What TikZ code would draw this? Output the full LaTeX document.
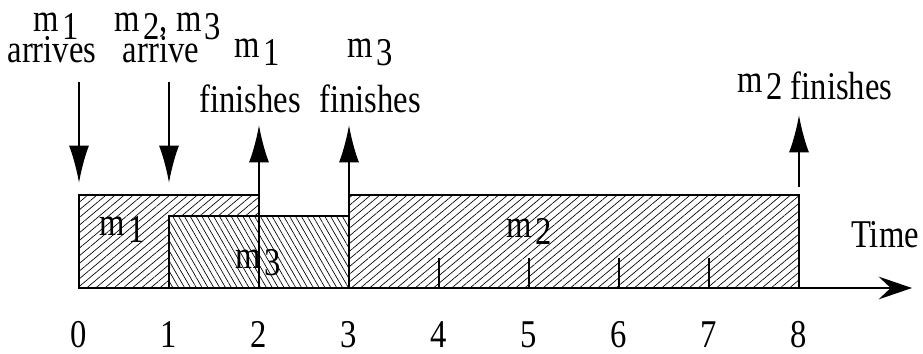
\documentclass[tikz,border=0pt]{standalone}
\usepackage{fontspec}
\setmainfont[FakeStretch=0.83]{Liberation Serif}
\usetikzlibrary{patterns.meta,arrows.meta}
\newcommand{\msb}[1]{m\hspace{2.5pt}\raisebox{-5.5pt}{#1}}
\begin{document}
\begin{tikzpicture}[x=0.75pt,y=-0.75pt,
  lbl/.style={font=\fontsize{29.5}{31}\selectfont, inner sep=0pt, anchor=base},
  arr/.style={line width=1.6pt, -{Latex[length=28pt,width=15pt]}},
  box/.style={line width=1.6pt},
  hatchA/.style={pattern={Lines[angle=40,distance=4.4pt,line width=0.5pt]}},
  hatchB/.style={preaction={fill=white},pattern={Lines[angle=-60,distance=3.8pt,line width=0.5pt]}}]
\useasboundingbox (0,0) rectangle (923,353);
% job boxes
\draw[box, hatchA] (79,195) rectangle (259,288);
\draw[box, hatchB] (169,216) rectangle (349,288);
\draw[box, hatchA] (349,195) rectangle (799,288);
% ticks
\foreach \i in {4,...,7} \draw[line width=1pt] (79+90*\i,288) -- (79+90*\i,258);
% axis
\coordinate (ax0) at (79,288);
\coordinate (ax1) at (912,288);
\draw[line width=1.6pt, -{Stealth[length=25pt,width=17pt,inset=9pt]}] (ax0) -- (ax1);
% arrows
\coordinate (d0s) at (79,82);  \coordinate (d0e) at (79,183);
\coordinate (d1s) at (169,82); \coordinate (d1e) at (169,183);
\coordinate (u2s) at (259,288); \coordinate (u2e) at (259,125);
\coordinate (u3s) at (349,216); \coordinate (u3e) at (349,125);
\coordinate (u8s) at (799,187); \coordinate (u8e) at (799,115);
\draw[arr] (d0s) -- (d0e);
\draw[arr] (d1s) -- (d1e);
\draw[arr] (u2s) -- (u2e);
\draw[arr] (u3s) -- (u3e);
\draw[arr] (u8s) -- (u8e);
% top labels
\node[lbl] (l1a) at (56,32) {\msb{1}};
\node[lbl] (l1b) at (52,63) {arrives};
\node[lbl] (l2a) at (168,32) {\msb{2}, \msb{3}};
\node[lbl] (l2b) at (161,63) {arrive};
\node[lbl] (l3a) at (257,58) {\msb{1}};
\node[lbl] (l3b) at (250,112) {finishes};
\node[lbl] (l4a) at (370,58) {\msb{3}};
\node[lbl] (l4b) at (370,112) {finishes};
\node[lbl] (l5) at (815,92) {\msb{2 finishes}};
% box labels
\node[lbl] (b1) at (122,235) {\msb{1}};
\node[lbl] (b3) at (258,268) {\msb{3}};
\node[lbl] (b2) at (529,237) {\msb{2}};
\node[lbl] (time) at (885,247) {Time};
% axis numbers
\foreach \i in {0,...,8} \node[lbl] (t\i) at (79+90*\i,347) {\i};
\end{tikzpicture}
\end{document}
